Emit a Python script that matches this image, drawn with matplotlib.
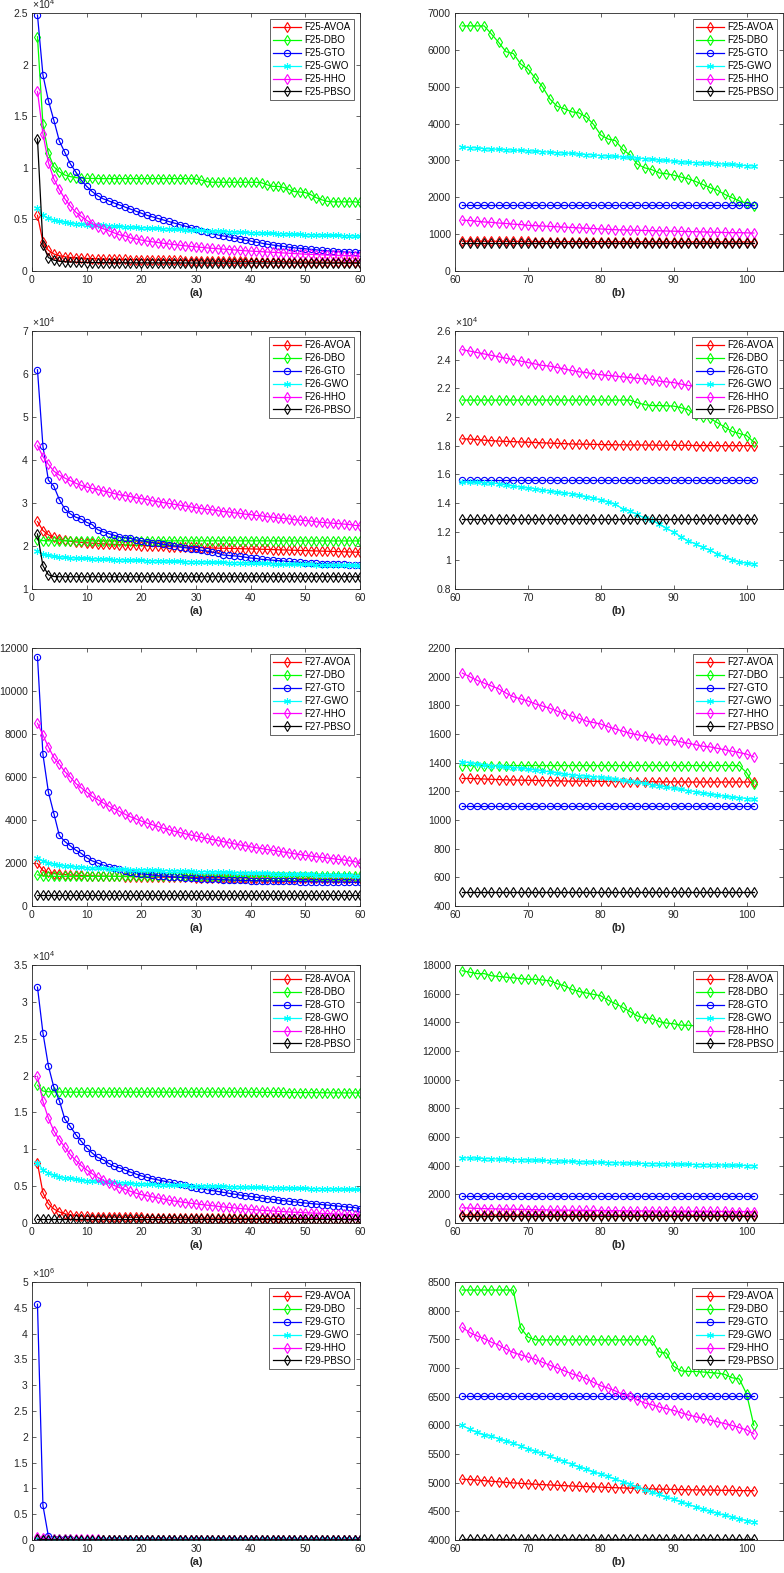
import numpy as np
import matplotlib
matplotlib.use('Agg')
from matplotlib import pyplot as plt
from matplotlib.ticker import FuncFormatter

plt.rcParams['font.family'] = ['Liberation Sans', 'DejaVu Sans']
plt.rcParams['mathtext.fontset'] = 'custom'
plt.rcParams['mathtext.rm'] = 'Liberation Sans'

algorithms = ['AVOA', 'DBO', 'GTO', 'GWO', 'HHO', 'PBSO']
functions = ['F25', 'F26', 'F27', 'F28', 'F29']

# ---------------- F25 : iterations 1-60 ----------------
f25a_avoa = [5400, 2800, 2000, 1650, 1480, 1380, 1320, 1280, 1250, 1220,
             1200, 1180, 1160, 1150, 1140, 1130, 1120, 1110, 1100, 1090,
             1080, 1070, 1060, 1050, 1040, 1030, 1020, 1010, 1000, 990,
             980, 970, 960, 950, 945, 940, 935, 930, 925, 920,
             915, 910, 905, 900, 895, 890, 885, 880, 875, 870,
             865, 860, 855, 850, 845, 840, 835, 830, 825, 820]
f25a_dbo = [22700, 14200, 11400, 10100, 9600, 9300, 9150, 9050, 9000, 8980,
            8970, 8960, 8950, 8950, 8950, 8950, 8950, 8950, 8950, 8950,
            8950, 8950, 8950, 8950, 8950, 8950, 8950, 8950, 8950, 8900,
            8800, 8650, 8600, 8600, 8600, 8600, 8600, 8600, 8600, 8600,
            8600, 8550, 8350, 8200, 8200, 8100, 7900, 7700, 7650, 7600,
            7400, 7100, 6900, 6750, 6700, 6700, 6700, 6700, 6700, 6650]
f25a_gto = [24800, 19000, 16500, 14600, 12600, 11500, 10400, 9600, 8800, 8200,
            7700, 7300, 7000, 6800, 6600, 6400, 6200, 6000, 5800, 5600,
            5400, 5250, 5100, 4950, 4800, 4650, 4500, 4350, 4200, 4050,
            3900, 3750, 3600, 3500, 3400, 3300, 3200, 3100, 3000, 2900,
            2800, 2700, 2600, 2520, 2450, 2380, 2310, 2250, 2200, 2150,
            2100, 2050, 2000, 1960, 1920, 1880, 1850, 1820, 1800, 1780]
f25a_gwo = [6100, 5400, 5100, 4950, 4850, 4750, 4650, 4600, 4550, 4500,
            4470, 4440, 4410, 4380, 4350, 4320, 4290, 4260, 4230, 4200,
            4180, 4150, 4130, 4100, 4080, 4050, 4030, 4000, 3980, 3950,
            3930, 3900, 3880, 3860, 3840, 3820, 3790, 3770, 3740, 3720,
            3700, 3680, 3660, 3640, 3620, 3600, 3580, 3560, 3540, 3520,
            3500, 3490, 3480, 3460, 3450, 3440, 3420, 3410, 3390, 3380]
f25a_hho = [17400, 13300, 10500, 8900, 7900, 7000, 6300, 5700, 5300, 4900,
            4600, 4300, 4100, 3900, 3700, 3500, 3400, 3200, 3100, 3000,
            2900, 2830, 2760, 2690, 2620, 2560, 2500, 2440, 2390, 2340,
            2290, 2240, 2200, 2160, 2120, 2080, 2040, 2000, 1960, 1930,
            1900, 1870, 1840, 1810, 1780, 1750, 1720, 1690, 1660, 1630,
            1610, 1590, 1570, 1550, 1530, 1510, 1490, 1470, 1450, 1420]
f25a_pbso = [12800, 2500, 1300, 1050, 950, 900, 870, 850, 830, 820,
             815, 810, 805, 800, 800, 795, 795, 790, 790, 790,
             788, 786, 784, 782, 780, 779, 778, 777, 776, 775,
             774, 773, 772, 771, 770, 770, 769, 769, 768, 768,
             767, 767, 766, 766, 765, 765, 764, 764, 763, 763,
             762, 762, 762, 761, 761, 761, 760, 760, 760, 760]

# ---------------- F25 : iterations 61-101 ----------------
f25b_avoa = [810, 809, 808, 807, 806, 805, 804, 803, 802, 801,
             800, 800, 799, 799, 798, 798, 797, 797, 796, 796,
             795, 795, 794, 794, 794, 793, 793, 793, 792, 792,
             792, 791, 791, 791, 790, 790, 790, 790, 790, 790, 790]
f25b_dbo = [6650, 6650, 6650, 6650, 6430, 6200, 5950, 5900, 5620, 5480,
            5240, 5000, 4670, 4470, 4400, 4320, 4290, 4180, 3980, 3690,
            3580, 3540, 3300, 3150, 2900, 2800, 2750, 2660, 2640, 2600,
            2550, 2500, 2430, 2350, 2260, 2190, 2080, 1990, 1900, 1840, 1770]
f25b_gto = [1780, 1780, 1780, 1780, 1780, 1780, 1780, 1780, 1780, 1780,
            1780, 1780, 1780, 1780, 1780, 1780, 1780, 1780, 1780, 1780,
            1780, 1780, 1780, 1780, 1780, 1780, 1780, 1780, 1780, 1780,
            1780, 1780, 1780, 1780, 1780, 1780, 1780, 1780, 1780, 1780, 1780]
f25b_gwo = [3360, 3350, 3340, 3320, 3310, 3300, 3290, 3280, 3270, 3260,
            3250, 3240, 3220, 3210, 3200, 3190, 3170, 3160, 3150, 3130,
            3120, 3110, 3090, 3080, 3060, 3050, 3030, 3010, 3000, 2980,
            2960, 2950, 2940, 2930, 2920, 2910, 2900, 2890, 2870, 2860, 2850]
f25b_hho = [1380, 1370, 1350, 1330, 1320, 1300, 1290, 1270, 1260, 1240,
            1230, 1220, 1210, 1200, 1190, 1180, 1170, 1160, 1150, 1140,
            1130, 1120, 1115, 1110, 1105, 1100, 1095, 1090, 1085, 1080,
            1075, 1070, 1065, 1060, 1055, 1050, 1045, 1040, 1040, 1035, 1030]
f25b_pbso = [760, 760, 760, 760, 760, 760, 760, 760, 760, 760,
             760, 760, 760, 760, 760, 760, 760, 760, 760, 760,
             760, 760, 760, 760, 760, 760, 760, 760, 760, 760,
             760, 760, 760, 760, 760, 760, 760, 760, 760, 760, 760]

# ---------------- F26 : iterations 1-60 ----------------
f26a_avoa = [25700, 23600, 22600, 22000, 21600, 21300, 21100, 20950, 20850, 20750,
             20650, 20570, 20500, 20430, 20370, 20310, 20250, 20200, 20150, 20100,
             20050, 20000, 19950, 19900, 19860, 19820, 19780, 19740, 19700, 19660,
             19620, 19580, 19540, 19500, 19470, 19440, 19410, 19380, 19350, 19320,
             19290, 19250, 19210, 19170, 19130, 19090, 19050, 19010, 18970, 18930,
             18890, 18850, 18810, 18770, 18730, 18690, 18650, 18610, 18570, 18540]
f26a_dbo = [21400, 21250, 21200, 21200, 21200, 21200, 21200, 21200, 21200, 21200,
            21200, 21200, 21200, 21200, 21200, 21200, 21200, 21200, 21200, 21200,
            21200, 21200, 21200, 21200, 21200, 21200, 21200, 21200, 21200, 21200,
            21200, 21200, 21200, 21200, 21200, 21200, 21200, 21200, 21200, 21200,
            21200, 21200, 21200, 21200, 21200, 21180, 21180, 21180, 21180, 21180,
            21180, 21180, 21180, 21180, 21180, 21180, 21180, 21180, 21180, 21180]
f26a_gto = [61000, 43200, 35300, 33900, 30800, 28600, 27500, 26700, 26300, 25500,
            25000, 23800, 23300, 22900, 22500, 22100, 21900, 21800, 21400, 21200,
            21000, 20800, 20600, 20400, 20200, 20000, 19800, 19600, 19400, 19200,
            19000, 18800, 18600, 18300, 17900, 17800, 17700, 17600, 17400, 17200,
            17100, 16900, 16800, 16700, 16600, 16500, 16400, 16300, 16200, 16100,
            16000, 15950, 15900, 15850, 15800, 15750, 15700, 15650, 15600, 15550]
f26a_gwo = [18800, 18100, 17800, 17600, 17500, 17400, 17300, 17200, 17150, 17100,
            17050, 17000, 16950, 16900, 16850, 16800, 16760, 16720, 16680, 16640,
            16600, 16570, 16540, 16510, 16480, 16450, 16420, 16390, 16360, 16330,
            16300, 16270, 16240, 16210, 16180, 16150, 16120, 16090, 16060, 16030,
            16000, 15970, 15940, 15910, 15880, 15850, 15820, 15790, 15760, 15730,
            15700, 15670, 15640, 15610, 15590, 15570, 15540, 15510, 15480, 15450]
f26a_hho = [43400, 40800, 39000, 37400, 36500, 35800, 35200, 34600, 34100, 33700,
            33400, 33100, 32800, 32500, 32200, 31900, 31700, 31500, 31200, 31000,
            30800, 30500, 30300, 30100, 29900, 29700, 29500, 29300, 29100, 28900,
            28700, 28500, 28400, 28200, 28000, 27900, 27700, 27600, 27400, 27300,
            27100, 27000, 26800, 26700, 26500, 26400, 26300, 26100, 26000, 25900,
            25800, 25600, 25500, 25400, 25300, 25200, 25100, 25000, 24800, 24700]
f26a_pbso = [22800, 15400, 13300, 12900, 12850, 12850, 12850, 12850, 12850, 12850,
             12850, 12850, 12850, 12850, 12850, 12850, 12850, 12850, 12850, 12850,
             12850, 12850, 12850, 12850, 12850, 12850, 12850, 12850, 12850, 12850,
             12850, 12850, 12850, 12850, 12850, 12850, 12850, 12850, 12850, 12850,
             12850, 12850, 12850, 12850, 12850, 12850, 12850, 12850, 12850, 12850,
             12850, 12850, 12850, 12850, 12850, 12850, 12850, 12850, 12850, 12850]

# ---------------- F26 : iterations 61-101 ----------------
f26b_avoa = [18480, 18460, 18420, 18380, 18350, 18320, 18300, 18280, 18260, 18240,
             18220, 18200, 18180, 18160, 18140, 18120, 18110, 18100, 18090, 18080,
             18070, 18060, 18060, 18050, 18050, 18040, 18040, 18030, 18030, 18020,
             18020, 18020, 18010, 18010, 18010, 18000, 18000, 18000, 18000, 18000, 18000]
f26b_dbo = [21180, 21180, 21180, 21180, 21180, 21180, 21180, 21180, 21180, 21180,
            21180, 21180, 21180, 21180, 21180, 21180, 21180, 21180, 21180, 21180,
            21180, 21180, 21180, 21180, 21000, 20860, 20800, 20800, 20780, 20760,
            20650, 20500, 20150, 20000, 19900, 19600, 19300, 19000, 18850, 18700, 18250]
f26b_gto = [15600, 15600, 15600, 15600, 15600, 15600, 15600, 15600, 15600, 15600,
            15600, 15600, 15600, 15600, 15600, 15600, 15600, 15600, 15600, 15600,
            15600, 15600, 15600, 15600, 15600, 15600, 15600, 15600, 15600, 15600,
            15600, 15600, 15600, 15600, 15600, 15600, 15600, 15600, 15600, 15600, 15600]
f26b_gwo = [15450, 15450, 15450, 15420, 15400, 15350, 15250, 15200, 15100, 15050,
            15000, 14900, 14850, 14750, 14700, 14650, 14550, 14450, 14350, 14200,
            14100, 13900, 13600, 13450, 13200, 12950, 12800, 12550, 12250, 11950,
            11650, 11350, 11150, 10900, 10700, 10450, 10250, 10050, 9900, 9800, 9750]
f26b_hho = [24700, 24600, 24500, 24400, 24300, 24200, 24100, 24000, 23900, 23800,
            23700, 23600, 23550, 23450, 23350, 23250, 23150, 23100, 23000, 22950,
            22900, 22850, 22800, 22750, 22700, 22650, 22600, 22500, 22450, 22400,
            22300, 22200, 22150, 22100, 22000, 21950, 21900, 21800, 21750, 21700, 21650]
f26b_pbso = [12850, 12850, 12850, 12850, 12850, 12850, 12850, 12850, 12850, 12850,
             12850, 12850, 12850, 12850, 12850, 12850, 12850, 12850, 12850, 12850,
             12850, 12850, 12850, 12850, 12850, 12850, 12850, 12850, 12850, 12850,
             12850, 12850, 12850, 12850, 12850, 12850, 12850, 12850, 12850, 12850, 12850]

# ---------------- F27 : iterations 1-60 ----------------
f27a_avoa = [1980, 1650, 1560, 1510, 1480, 1460, 1440, 1430, 1420, 1410,
             1400, 1395, 1390, 1385, 1380, 1375, 1370, 1365, 1360, 1355,
             1350, 1347, 1344, 1341, 1338, 1335, 1332, 1329, 1326, 1323,
             1320, 1318, 1316, 1314, 1312, 1310, 1308, 1306, 1304, 1302,
             1300, 1299, 1298, 1297, 1296, 1295, 1294, 1293, 1292, 1291,
             1290, 1290, 1290, 1290, 1290, 1290, 1290, 1290, 1290, 1290]
f27a_dbo = [1450, 1400, 1380, 1380, 1380, 1380, 1380, 1380, 1380, 1380,
            1380, 1380, 1380, 1380, 1380, 1380, 1380, 1380, 1380, 1380,
            1380, 1380, 1380, 1380, 1380, 1380, 1380, 1380, 1380, 1380,
            1380, 1380, 1380, 1380, 1380, 1380, 1380, 1380, 1380, 1380,
            1380, 1380, 1380, 1380, 1380, 1380, 1380, 1380, 1380, 1380,
            1380, 1380, 1380, 1380, 1380, 1380, 1380, 1380, 1380, 1380]
f27a_gto = [11600, 7050, 5300, 4300, 3280, 3000, 2800, 2600, 2450, 2250,
            2100, 2000, 1900, 1830, 1760, 1700, 1640, 1590, 1550, 1500,
            1470, 1440, 1410, 1390, 1370, 1350, 1330, 1310, 1295, 1280,
            1265, 1255, 1245, 1235, 1225, 1215, 1205, 1195, 1188, 1180,
            1175, 1170, 1165, 1160, 1155, 1150, 1145, 1140, 1135, 1130,
            1127, 1124, 1121, 1118, 1115, 1112, 1109, 1106, 1103, 1100]
f27a_gwo = [2250, 2100, 2020, 1960, 1920, 1880, 1850, 1830, 1810, 1790,
            1775, 1760, 1748, 1736, 1725, 1715, 1705, 1696, 1688, 1680,
            1672, 1664, 1656, 1648, 1640, 1632, 1625, 1618, 1611, 1604,
            1597, 1590, 1583, 1576, 1569, 1562, 1555, 1548, 1541, 1534,
            1528, 1522, 1516, 1510, 1504, 1498, 1492, 1486, 1480, 1474,
            1468, 1462, 1456, 1450, 1444, 1438, 1432, 1426, 1418, 1410]
f27a_hho = [8500, 7950, 7400, 6900, 6600, 6250, 6000, 5700, 5500, 5300,
            5100, 4950, 4800, 4650, 4520, 4400, 4270, 4150, 4050, 3950,
            3860, 3780, 3700, 3620, 3550, 3480, 3420, 3360, 3300, 3250,
            3190, 3140, 3090, 3040, 2990, 2940, 2890, 2840, 2800, 2750,
            2710, 2670, 2630, 2590, 2550, 2510, 2470, 2430, 2390, 2350,
            2320, 2290, 2260, 2230, 2200, 2170, 2140, 2100, 2060, 2020]
f27a_pbso = [500, 500, 500, 500, 500, 500, 500, 500, 500, 500,
             500, 500, 500, 500, 500, 500, 500, 500, 500, 500,
             500, 500, 500, 500, 500, 500, 500, 500, 500, 500,
             500, 500, 500, 500, 500, 500, 500, 500, 500, 500,
             500, 500, 500, 500, 500, 500, 500, 500, 500, 500,
             500, 500, 500, 500, 500, 500, 500, 500, 500, 500]

# ---------------- F27 : iterations 61-101 ----------------
f27b_avoa = [1290, 1290, 1288, 1286, 1284, 1282, 1280, 1279, 1278, 1277,
             1276, 1275, 1274, 1273, 1272, 1271, 1271, 1270, 1270, 1269,
             1269, 1268, 1268, 1268, 1267, 1267, 1267, 1266, 1266, 1266,
             1266, 1265, 1265, 1265, 1265, 1265, 1265, 1265, 1265, 1265, 1265]
f27b_dbo = [1380, 1380, 1380, 1380, 1380, 1380, 1380, 1380, 1380, 1380,
            1380, 1380, 1380, 1380, 1380, 1380, 1380, 1380, 1380, 1380,
            1380, 1380, 1380, 1380, 1380, 1380, 1380, 1380, 1380, 1380,
            1380, 1380, 1380, 1380, 1380, 1380, 1380, 1380, 1380, 1330, 1250]
f27b_gto = [1095, 1095, 1095, 1095, 1095, 1095, 1095, 1095, 1095, 1095,
            1095, 1095, 1095, 1095, 1095, 1095, 1095, 1095, 1095, 1095,
            1095, 1095, 1095, 1095, 1095, 1095, 1095, 1095, 1095, 1095,
            1095, 1095, 1095, 1095, 1095, 1095, 1095, 1095, 1095, 1095, 1095]
f27b_gwo = [1405, 1400, 1392, 1385, 1380, 1375, 1370, 1366, 1362, 1356,
            1350, 1343, 1336, 1328, 1320, 1315, 1310, 1306, 1302, 1298,
            1290, 1283, 1276, 1270, 1263, 1255, 1247, 1239, 1230, 1221,
            1213, 1205, 1197, 1189, 1181, 1173, 1166, 1160, 1155, 1150, 1146]
f27b_hho = [2025, 2000, 1975, 1955, 1935, 1915, 1885, 1860, 1845, 1830,
            1810, 1795, 1780, 1760, 1740, 1725, 1710, 1690, 1680, 1670,
            1650, 1635, 1620, 1605, 1595, 1585, 1575, 1565, 1560, 1555,
            1545, 1535, 1525, 1515, 1510, 1500, 1490, 1480, 1470, 1460, 1440]
f27b_pbso = [500, 500, 500, 500, 500, 500, 500, 500, 500, 500,
             500, 500, 500, 500, 500, 500, 500, 500, 500, 500,
             500, 500, 500, 500, 500, 500, 500, 500, 500, 500,
             500, 500, 500, 500, 500, 500, 500, 500, 500, 500, 500]

# ---------------- F28 : iterations 1-60 ----------------
f28a_avoa = [8100, 4100, 2600, 1900, 1500, 1250, 1100, 1000, 950, 900,
             870, 850, 830, 815, 800, 790, 780, 770, 760, 750,
             742, 735, 728, 721, 714, 707, 700, 694, 688, 682,
             676, 670, 665, 660, 655, 650, 645, 640, 636, 632,
             628, 624, 620, 616, 612, 608, 604, 600, 597, 594,
             591, 588, 585, 582, 579, 576, 573, 570, 567, 564]
f28a_dbo = [18700, 17900, 17800, 17780, 17770, 17760, 17750, 17750, 17750, 17750,
            17750, 17750, 17750, 17750, 17750, 17750, 17750, 17750, 17750, 17750,
            17750, 17750, 17750, 17750, 17750, 17750, 17750, 17750, 17750, 17750,
            17750, 17750, 17750, 17750, 17750, 17740, 17740, 17740, 17740, 17740,
            17730, 17730, 17720, 17720, 17710, 17710, 17700, 17700, 17690, 17690,
            17680, 17680, 17670, 17670, 17660, 17660, 17650, 17650, 17650, 17650]
f28a_gto = [32000, 25800, 21300, 18400, 16600, 14100, 13100, 12000, 11100, 10200,
            9500, 8900, 8600, 8100, 7700, 7500, 7200, 6900, 6650, 6400,
            6200, 6000, 5850, 5700, 5550, 5400, 5250, 5100, 4950, 4800,
            4650, 4520, 4400, 4280, 4160, 4040, 3920, 3800, 3700, 3600,
            3500, 3400, 3300, 3210, 3120, 3030, 2950, 2870, 2790, 2710,
            2640, 2570, 2500, 2430, 2360, 2290, 2220, 2150, 2080, 1950]
f28a_gwo = [8200, 7200, 6750, 6500, 6300, 6150, 6050, 5950, 5850, 5750,
            5700, 5650, 5600, 5550, 5500, 5460, 5420, 5380, 5340, 5300,
            5270, 5240, 5210, 5180, 5160, 5140, 5120, 5100, 5080, 5060,
            5040, 5020, 5000, 4980, 4960, 4940, 4920, 4900, 4880, 4860,
            4840, 4820, 4800, 4785, 4770, 4755, 4740, 4725, 4710, 4695,
            4680, 4665, 4650, 4635, 4620, 4605, 4590, 4575, 4560, 4550]
f28a_hho = [19900, 16500, 14200, 12500, 11300, 10300, 9300, 8500, 7800, 7200,
            6700, 6200, 5800, 5400, 5100, 4800, 4550, 4300, 4050, 3850,
            3700, 3550, 3400, 3250, 3100, 2980, 2880, 2780, 2680, 2600,
            2500, 2420, 2340, 2260, 2180, 2110, 2040, 1970, 1900, 1840,
            1780, 1730, 1680, 1630, 1580, 1540, 1500, 1460, 1420, 1390,
            1360, 1330, 1300, 1270, 1240, 1210, 1180, 1150, 1120, 1080]
f28a_pbso = [500, 500, 500, 500, 500, 500, 500, 500, 500, 500,
             500, 500, 500, 500, 500, 500, 500, 500, 500, 500,
             500, 500, 500, 500, 500, 500, 500, 500, 500, 500,
             500, 500, 500, 500, 500, 500, 500, 500, 500, 500,
             500, 500, 500, 500, 500, 500, 500, 500, 500, 500,
             500, 500, 500, 500, 500, 500, 500, 500, 500, 500]

# ---------------- F28 : iterations 61-101 ----------------
f28b_avoa = [560, 559, 558, 557, 556, 555, 554, 553, 552, 551,
             550, 549, 548, 547, 546, 545, 544, 543, 542, 541,
             540, 539, 538, 537, 536, 535, 535, 534, 534, 533,
             533, 532, 532, 531, 531, 531, 530, 530, 530, 530, 530]
f28b_dbo = [17600, 17500, 17400, 17400, 17250, 17200, 17150, 17100, 17050, 17000,
            17000, 16950, 16900, 16700, 16550, 16300, 16150, 16050, 15950, 15850,
            15550, 15300, 15050, 14750, 14450, 14300, 14250, 14050, 13950, 13900,
            13800, 13800, 13750, 13700, 13650, 13600, 13550, 13500, 13450, 13400, 13350]
f28b_gto = [1900, 1900, 1900, 1900, 1900, 1900, 1900, 1900, 1900, 1900,
            1900, 1900, 1900, 1900, 1900, 1900, 1900, 1900, 1900, 1900,
            1900, 1900, 1900, 1900, 1900, 1900, 1900, 1900, 1900, 1900,
            1900, 1900, 1900, 1900, 1900, 1900, 1900, 1900, 1900, 1900, 1900]
f28b_gwo = [4550, 4540, 4520, 4500, 4480, 4460, 4450, 4430, 4410, 4400,
            4380, 4370, 4350, 4330, 4310, 4300, 4280, 4260, 4250, 4230,
            4220, 4200, 4190, 4180, 4160, 4150, 4140, 4130, 4120, 4110,
            4100, 4090, 4080, 4070, 4060, 4050, 4040, 4030, 4020, 4010, 4000]
f28b_hho = [1060, 1040, 1020, 1000, 990, 980, 970, 960, 950, 940,
            930, 920, 910, 900, 895, 890, 885, 880, 875, 870,
            865, 860, 855, 850, 846, 842, 838, 834, 830, 826,
            822, 818, 815, 812, 809, 806, 803, 800, 800, 800, 800]
f28b_pbso = [500, 500, 500, 500, 500, 500, 500, 500, 500, 500,
             500, 500, 500, 500, 500, 500, 500, 500, 500, 500,
             500, 500, 500, 500, 500, 500, 500, 500, 500, 500,
             500, 500, 500, 500, 500, 500, 500, 500, 500, 500, 500]

# ---------------- F29 : iterations 1-60 ----------------
f29a_avoa = [30000, 14000, 9500, 7800, 7000, 6500, 6200, 6000, 5850, 5750,
             5680, 5620, 5570, 5530, 5490, 5460, 5430, 5400, 5380, 5360,
             5340, 5320, 5300, 5285, 5270, 5255, 5240, 5228, 5216, 5204,
             5192, 5182, 5172, 5162, 5152, 5144, 5136, 5128, 5120, 5114,
             5108, 5102, 5098, 5094, 5090, 5087, 5084, 5081, 5078, 5076,
             5074, 5072, 5070, 5069, 5068, 5067, 5066, 5065, 5064, 5063]
f29a_dbo = [21000, 14000, 11800, 10900, 10400, 10000, 9700, 9500, 9350, 9250,
            9150, 9050, 8950, 8900, 8850, 8800, 8760, 8720, 8690, 8660,
            8640, 8620, 8600, 8580, 8560, 8540, 8520, 8500, 8490, 8480,
            8470, 8460, 8450, 8440, 8430, 8420, 8410, 8400, 8400, 8390,
            8390, 8380, 8380, 8380, 8370, 8370, 8370, 8370, 8360, 8360,
            8360, 8360, 8360, 8360, 8360, 8360, 8360, 8360, 8360, 8360]
f29a_gto = [4570000, 670000, 70000, 28000, 16000, 12000, 10500, 9600, 9000, 8600,
            8300, 8050, 7850, 7700, 7570, 7460, 7370, 7290, 7220, 7160,
            7110, 7060, 7020, 6980, 6950, 6920, 6890, 6860, 6840, 6820,
            6800, 6780, 6760, 6740, 6720, 6705, 6690, 6675, 6660, 6650,
            6640, 6630, 6620, 6610, 6600, 6590, 6580, 6575, 6570, 6565,
            6560, 6555, 6550, 6545, 6540, 6535, 6530, 6527, 6524, 6520]
f29a_gwo = [24000, 15000, 11500, 10000, 9200, 8700, 8350, 8100, 7900, 7750,
            7620, 7510, 7420, 7340, 7270, 7210, 7150, 7100, 7050, 7000,
            6960, 6920, 6880, 6840, 6810, 6780, 6750, 6720, 6690, 6660,
            6630, 6600, 6580, 6560, 6540, 6520, 6500, 6480, 6460, 6440,
            6420, 6400, 6380, 6360, 6340, 6320, 6300, 6280, 6260, 6240,
            6220, 6200, 6180, 6160, 6140, 6120, 6100, 6080, 6050, 6020]
f29a_hho = [62000, 33000, 22000, 17000, 14500, 13000, 12000, 11300, 10800, 10400,
            10100, 9850, 9650, 9480, 9330, 9200, 9080, 8980, 8890, 8810,
            8740, 8680, 8620, 8570, 8520, 8480, 8440, 8400, 8370, 8340,
            8310, 8280, 8250, 8220, 8200, 8180, 8160, 8140, 8120, 8100,
            8080, 8060, 8040, 8020, 8000, 7980, 7960, 7940, 7920, 7900,
            7880, 7860, 7840, 7820, 7800, 7790, 7780, 7760, 7740, 7730]
f29a_pbso = [15000, 7500, 5200, 4600, 4350, 4220, 4150, 4100, 4080, 4060,
             4050, 4045, 4040, 4038, 4036, 4034, 4032, 4030, 4030, 4028,
             4028, 4026, 4026, 4025, 4025, 4024, 4024, 4023, 4023, 4022,
             4022, 4022, 4022, 4021, 4021, 4021, 4021, 4021, 4020, 4020,
             4020, 4020, 4020, 4020, 4020, 4020, 4020, 4020, 4020, 4020,
             4020, 4020, 4020, 4020, 4020, 4020, 4020, 4020, 4020, 4020]

# ---------------- F29 : iterations 61-101 ----------------
f29b_avoa = [5060, 5055, 5045, 5035, 5025, 5015, 5005, 4995, 4988, 4980,
             4973, 4966, 4960, 4954, 4948, 4942, 4937, 4932, 4927, 4922,
             4917, 4912, 4908, 4904, 4900, 4896, 4892, 4888, 4885, 4882,
             4879, 4876, 4874, 4872, 4870, 4868, 4866, 4864, 4862, 4861, 4860]
f29b_dbo = [8360, 8360, 8360, 8360, 8360, 8360, 8360, 8360, 7700, 7540,
            7490, 7490, 7490, 7490, 7490, 7490, 7490, 7490, 7490, 7490,
            7490, 7490, 7490, 7490, 7490, 7490, 7480, 7280, 7260, 7030,
            6950, 6940, 6940, 6930, 6920, 6910, 6890, 6830, 6810, 6550, 6000]
f29b_gto = [6520, 6520, 6520, 6520, 6520, 6520, 6520, 6520, 6520, 6520,
            6520, 6520, 6520, 6520, 6520, 6520, 6520, 6520, 6520, 6520,
            6520, 6520, 6520, 6520, 6520, 6520, 6520, 6520, 6520, 6520,
            6520, 6520, 6520, 6520, 6520, 6520, 6520, 6520, 6520, 6520, 6520]
f29b_gwo = [6000, 5930, 5880, 5840, 5810, 5770, 5730, 5690, 5640, 5590,
            5550, 5510, 5460, 5420, 5370, 5320, 5280, 5240, 5190, 5150,
            5110, 5060, 5020, 4970, 4930, 4880, 4840, 4800, 4750, 4710,
            4670, 4620, 4580, 4540, 4500, 4470, 4430, 4400, 4370, 4340, 4320]
f29b_hho = [7710, 7620, 7560, 7510, 7450, 7400, 7330, 7270, 7230, 7190,
            7150, 7100, 7050, 7000, 6950, 6900, 6860, 6810, 6750, 6690,
            6650, 6600, 6540, 6510, 6440, 6390, 6360, 6320, 6290, 6260,
            6220, 6180, 6150, 6120, 6090, 6060, 6030, 6000, 5960, 5920, 5850]
f29b_pbso = [4020, 4020, 4020, 4020, 4020, 4020, 4020, 4020, 4020, 4020,
             4020, 4020, 4020, 4020, 4020, 4020, 4020, 4020, 4020, 4020,
             4020, 4020, 4020, 4020, 4020, 4020, 4020, 4020, 4020, 4020,
             4020, 4020, 4020, 4020, 4020, 4020, 4020, 4020, 4020, 4020, 4020]

series_a = [
    [f25a_avoa, f25a_dbo, f25a_gto, f25a_gwo, f25a_hho, f25a_pbso],
    [f26a_avoa, f26a_dbo, f26a_gto, f26a_gwo, f26a_hho, f26a_pbso],
    [f27a_avoa, f27a_dbo, f27a_gto, f27a_gwo, f27a_hho, f27a_pbso],
    [f28a_avoa, f28a_dbo, f28a_gto, f28a_gwo, f28a_hho, f28a_pbso],
    [f29a_avoa, f29a_dbo, f29a_gto, f29a_gwo, f29a_hho, f29a_pbso],
]
series_b = [
    [f25b_avoa, f25b_dbo, f25b_gto, f25b_gwo, f25b_hho, f25b_pbso],
    [f26b_avoa, f26b_dbo, f26b_gto, f26b_gwo, f26b_hho, f26b_pbso],
    [f27b_avoa, f27b_dbo, f27b_gto, f27b_gwo, f27b_hho, f27b_pbso],
    [f28b_avoa, f28b_dbo, f28b_gto, f28b_gwo, f28b_hho, f28b_pbso],
    [f29b_avoa, f29b_dbo, f29b_gto, f29b_gwo, f29b_hho, f29b_pbso],
]

# y axis (min, max, step, exponent shown as x10^n)
yaxis_a = [(0, 25000, 5000, 4), (10000, 70000, 10000, 4), (0, 12000, 2000, None),
           (0, 35000, 5000, 4), (0, 5000000, 500000, 6)]
yaxis_b = [(0, 7000, 1000, None), (8000, 26000, 2000, 4), (400, 2200, 200, None),
           (0, 18000, 2000, None), (4000, 8500, 500, None)]

colors = ['#ff0000', '#00ff00', '#0000ff', '#00ffff', '#ff00ff', '#000000']
markers = ['d', 'd', 'o', (6, 2, 0), 'd', 'd']
msizes = [5.5, 5.5, 4.5, 5, 5.5, 5.5]

for grp in series_a:
    for s in grp:
        assert len(s) == 60
for grp in series_b:
    for s in grp:
        assert len(s) == 41

W, H = 784, 1573
fig = plt.figure(figsize=(W / 100, H / 100), dpi=100)
row_tops = [13, 331, 648, 965, 1282]
ax_h = 258
ax_w = 328
col_left = [32, 455]
axis_col = '#262626'


def style_axes(ax, ymin, ymax, step, exp, xlim, xticks, label):
    ax.set_xlim(*xlim)
    ax.set_xticks(xticks)
    ax.set_ylim(ymin, ymax)
    ax.set_yticks(np.arange(ymin, ymax + step / 2, step))
    if exp:
        ax.yaxis.set_major_formatter(FuncFormatter(lambda v, p, e=exp: f'{v / 10 ** e:g}'))
        ax.text(0.0, 1.008, r'$\times\mathregular{10^{%d}}$' % exp, transform=ax.transAxes,
                fontsize=7.5, color=axis_col, ha='left', va='bottom')
    else:
        ax.yaxis.set_major_formatter(FuncFormatter(lambda v, p: f'{v:g}'))
    ax.tick_params(direction='in', top=True, right=True, length=3, width=0.5,
                   labelsize=7.5, colors=axis_col, pad=3)
    for sp in ax.spines.values():
        sp.set_linewidth(0.6)
        sp.set_color(axis_col)
    ax.set_xlabel(label, fontsize=8, fontweight='bold', color=axis_col, labelpad=2)


for r, fn in enumerate(functions):
    for c in range(2):
        top = row_tops[r]
        ax = fig.add_axes([col_left[c] / W, 1 - (top + ax_h) / H, ax_w / W, ax_h / H])
        data = series_a[r] if c == 0 else series_b[r]
        start = 1 if c == 0 else 61
        for name, y, col, mk, ms in zip(algorithms, data, colors, markers, msizes):
            x = np.arange(start, start + len(y))
            ax.plot(x, y, color=col, marker=mk, markersize=ms, markerfacecolor='none',
                    markeredgewidth=0.8, linewidth=0.9, label=f'{fn}-{name}')
        if c == 0:
            ymin, ymax, step, exp = yaxis_a[r]
            style_axes(ax, ymin, ymax, step, exp, (0, 60), np.arange(0, 61, 10), '(a)')
        else:
            ymin, ymax, step, exp = yaxis_b[r]
            style_axes(ax, ymin, ymax, step, exp, (60, 105), np.arange(60, 101, 10), '(b)')
        leg = ax.legend(loc='upper right', fontsize=7, fancybox=False, framealpha=1,
                        edgecolor=axis_col, borderpad=0.35, labelspacing=0.3,
                        handlelength=2.9, handletextpad=0.3, borderaxespad=0.6)
        leg.get_frame().set_linewidth(0.5)

fig.savefig('out.png', dpi=100)
